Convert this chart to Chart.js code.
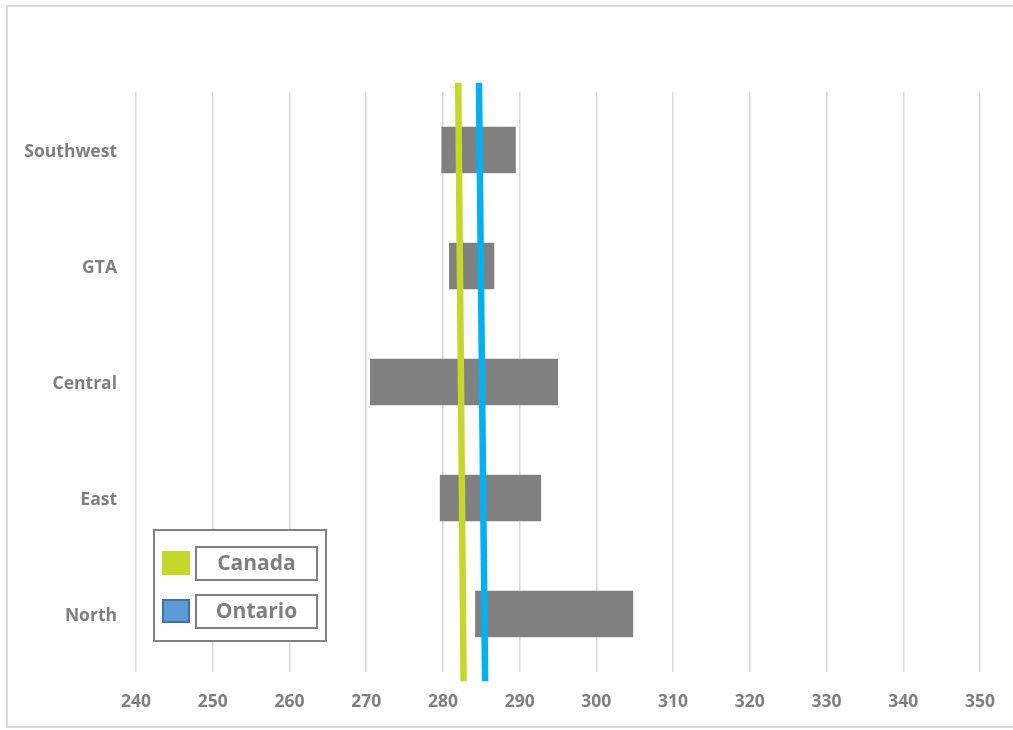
<!DOCTYPE html>
<html>
<head>
<meta charset="utf-8">
<title>Regional ranges vs. Canada and Ontario</title>
<script src="https://cdn.jsdelivr.net/npm/chart.js@4/dist/chart.umd.min.js"></script>
<style>
  html, body { margin: 0; padding: 0; background: #ffffff; }
  #wrap { width: 1013px; height: 730px; position: relative; }
</style>
</head>
<body>
<div id="wrap"><canvas id="chart" width="1013" height="730"></canvas></div>
<script>
// Regions (top to bottom) and the low/high end of each range
const regions = ['Southwest', 'GTA', 'Central', 'East', 'North'];
const rangeLow  = [279.8, 280.8, 270.5, 279.6, 284.2];
const rangeHigh = [289.5, 286.7, 295.0, 292.8, 304.8];

// Reference lines: x value at the top and bottom ends
const canadaX  = [282.0, 282.7];
const ontarioX = [284.7, 285.5];
// Vertical position of the two ends on the hidden helper axis (0 = bottom, 1 = top)
const lineY = [1.016, -0.016];

// Value axis ticks
const xMin = 240, xMax = 350, xStep = 10;

const grayText = '#7f7f7f';
const font = { family: "'Open Sans', 'Liberation Sans', sans-serif", weight: 'bold', size: 17.5 };

const ranges = regions.map((_, i) => [rangeLow[i], rangeHigh[i]]);
const toPoints = xs => xs.map((x, i) => ({ x: x, y: lineY[i] }));

// Legend entries drawn inside the plot
const legendItems = [
  { label: 'Canada',  fill: '#c3d82b', stroke: '#c3d82b' },
  { label: 'Ontario', fill: '#5b9bd5', stroke: '#41719c' }
];

const framePlugin = {
  id: 'frame',
  beforeDraw(chart) {
    const ctx = chart.ctx;
    ctx.save();
    ctx.fillStyle = '#ffffff';
    ctx.fillRect(0, 0, chart.width, chart.height);
    ctx.strokeStyle = '#d9d9d9';
    ctx.lineWidth = 2;
    ctx.strokeRect(7, 6, 1012, 721);
    ctx.restore();
  }
};

const boxLegendPlugin = {
  id: 'boxLegend',
  afterDraw(chart) {
    const ctx = chart.ctx;
    const a = chart.chartArea;
    const left = a.left + 18, top = a.bottom - 142;
    ctx.save();
    ctx.strokeStyle = '#808080';
    ctx.lineWidth = 2;
    ctx.fillStyle = '#ffffff';
    ctx.fillRect(left, top, 172, 111);
    ctx.strokeRect(left, top, 172, 111);
    ctx.font = "bold 21px 'Open Sans', 'Liberation Sans', sans-serif";
    ctx.textAlign = 'center';
    ctx.textBaseline = 'middle';
    legendItems.forEach((it, i) => {
      const rowY = top + 33 + i * 48;
      ctx.fillStyle = it.fill;
      ctx.fillRect(left + 8, rowY - 12, 28, 24);
      ctx.strokeStyle = it.stroke;
      ctx.lineWidth = 2;
      ctx.strokeRect(left + 9, rowY - 11, 26, 22);
      ctx.strokeStyle = '#808080';
      ctx.strokeRect(left + 42, rowY - 16, 121, 33);
      ctx.fillStyle = grayText;
      ctx.fillText(it.label, left + 42 + 60.5, rowY + 1);
    });
    ctx.restore();
  }
};

new Chart(document.getElementById('chart'), {
  type: 'bar',
  data: {
    labels: regions,
    datasets: [
      {
        type: 'scatter',
        label: 'Canada',
        data: toPoints(canadaX),
        showLine: true,
        borderColor: '#c3d82b',
        borderWidth: 6.5,
        pointRadius: 0,
        xAxisID: 'x',
        yAxisID: 'y2',
        clip: false,
        order: 0
      },
      {
        type: 'scatter',
        label: 'Ontario',
        data: toPoints(ontarioX),
        showLine: true,
        borderColor: '#00b0f0',
        borderWidth: 6.5,
        pointRadius: 0,
        xAxisID: 'x',
        yAxisID: 'y2',
        clip: false,
        order: 1
      },
      {
        type: 'bar',
        label: 'Range',
        data: ranges,
        backgroundColor: '#808080',
        borderWidth: 0,
        grouped: false,
        barPercentage: 0.4,
        categoryPercentage: 1.0,
        xAxisID: 'x',
        yAxisID: 'y',
        order: 2
      }
    ]
  },
  options: {
    indexAxis: 'y',
    responsive: false,
    animation: false,
    layout: { padding: { left: 8, right: 33, top: 92, bottom: 0 } },
    plugins: {
      legend: { display: false },
      tooltip: { enabled: false }
    },
    scales: {
      x: {
        type: 'linear',
        min: xMin,
        max: xMax,
        border: { display: false },
        grid: { color: '#d9d9d9', lineWidth: 1.5, drawTicks: false },
        ticks: { stepSize: xStep, color: grayText, font: font, padding: 20 },
        afterFit(scale) { scale.height = 58; scale.paddingLeft = 0; scale.paddingRight = 0; }
      },
      y: {
        type: 'category',
        offset: true,
        border: { display: false },
        grid: { display: false, drawTicks: false },
        ticks: { color: grayText, font: font, padding: 19, labelOffset: 2 },
        afterFit(scale) { scale.width = 128; }
      },
      y2: {
        type: 'linear',
        min: 0,
        max: 1,
        offset: false,
        display: false
      }
    }
  },
  plugins: [framePlugin, boxLegendPlugin]
});
</script>
</body>
</html>
